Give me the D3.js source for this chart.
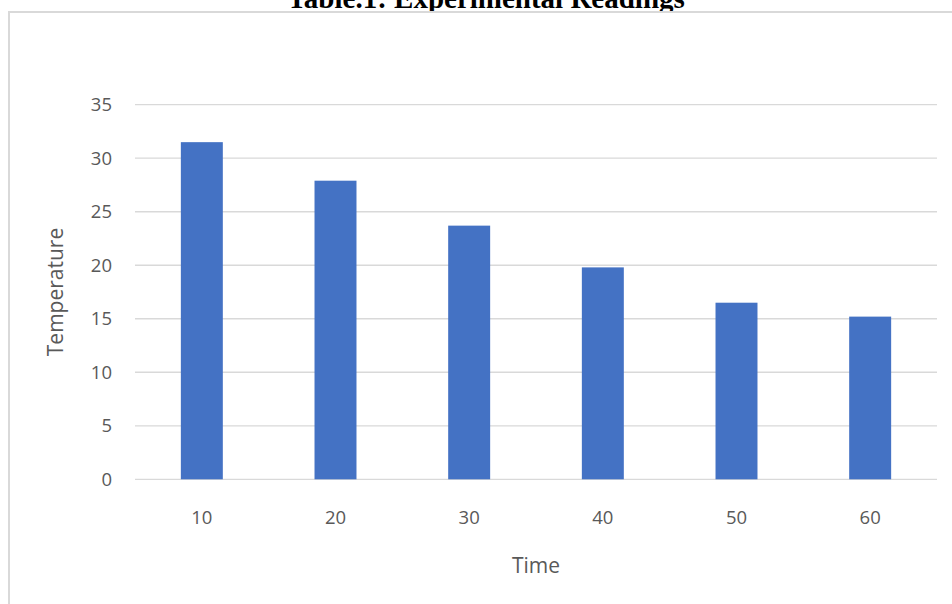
<!DOCTYPE html>
<html><head><meta charset="utf-8">
<script src="https://cdn.jsdelivr.net/npm/d3@7"></script>
<style>html,body{margin:0;padding:0;background:#fff;}svg{display:block;}</style>
</head><body>
<script>
const categories = ["10","20","30","40","50","60"];
const temperatures = [31.5, 27.9, 23.7, 19.8, 16.5, 15.2];
const yTicks = [0,5,10,15,20,25,30,35];
const chartTitle = "Table.1: Experimental Readings";
const xTitle = "Time";
const yTitle = "Temperature";

(function(){
const W = 952, H = 604;
const svg = d3.select("body").append("svg").attr("width", W).attr("height", H);

// title (partially hidden behind chart box, as in the reference)
svg.append("text").attr("x", 486).attr("y", 8).attr("text-anchor","middle")
  .attr("font-family","'Liberation Serif','Times New Roman',serif").attr("font-weight","bold")
  .attr("font-size", 29).attr("fill","#000").text(chartTitle);

// chart box
svg.append("rect").attr("x", 9).attr("y", 12).attr("width", W + 10).attr("height", H + 10)
  .attr("fill","#fff").attr("stroke","#d9d9d9").attr("stroke-width", 2);

const pLeft = 135, pRight = 937, pTop = 104.7, pBottom = 479.3;
const x = d3.scaleBand().domain(categories).range([pLeft, pRight]).paddingInner(0.686).paddingOuter(0.343);
const y = d3.scaleLinear().domain([0, 35]).range([pBottom, pTop]);

const font = "'Open Sans','Noto Sans',sans-serif";

// gridlines
svg.append("g").selectAll("line").data(yTicks).join("line")
  .attr("x1", pLeft).attr("x2", pRight).attr("y1", d => y(d)).attr("y2", d => y(d))
  .attr("stroke","#d9d9d9").attr("stroke-width", 1.3);

// y tick labels
svg.append("g").selectAll("text").data(yTicks).join("text")
  .attr("x", 112).attr("y", d => y(d)).attr("dy","0.36em").attr("text-anchor","end")
  .attr("font-family", font).attr("font-size", 18.5).attr("fill","#595959").text(d => d);

// bars
svg.append("g").selectAll("rect").data(temperatures).join("rect")
  .attr("x", (d,i) => x(categories[i])).attr("width", x.bandwidth())
  .attr("y", d => y(d)).attr("height", d => y(0) - y(d)).attr("fill","#4472C4");

// x tick labels
svg.append("g").selectAll("text").data(categories).join("text")
  .attr("x", d => x(d) + x.bandwidth()/2).attr("y", 524).attr("text-anchor","middle")
  .attr("font-family", font).attr("font-size", 18.5).attr("fill","#595959").text(d => d);

// axis titles
svg.append("text").attr("x", (pLeft+pRight)/2).attr("y", 572.5).attr("text-anchor","middle")
  .attr("font-family", font).attr("font-size", 21).attr("fill","#595959").text(xTitle);
svg.append("text").attr("transform", `translate(63,${(pTop+pBottom)/2}) rotate(-90)`).attr("text-anchor","middle")
  .attr("font-family", font).attr("font-size", 21).attr("fill","#595959").text(yTitle);
})();
</script>
</body></html>
